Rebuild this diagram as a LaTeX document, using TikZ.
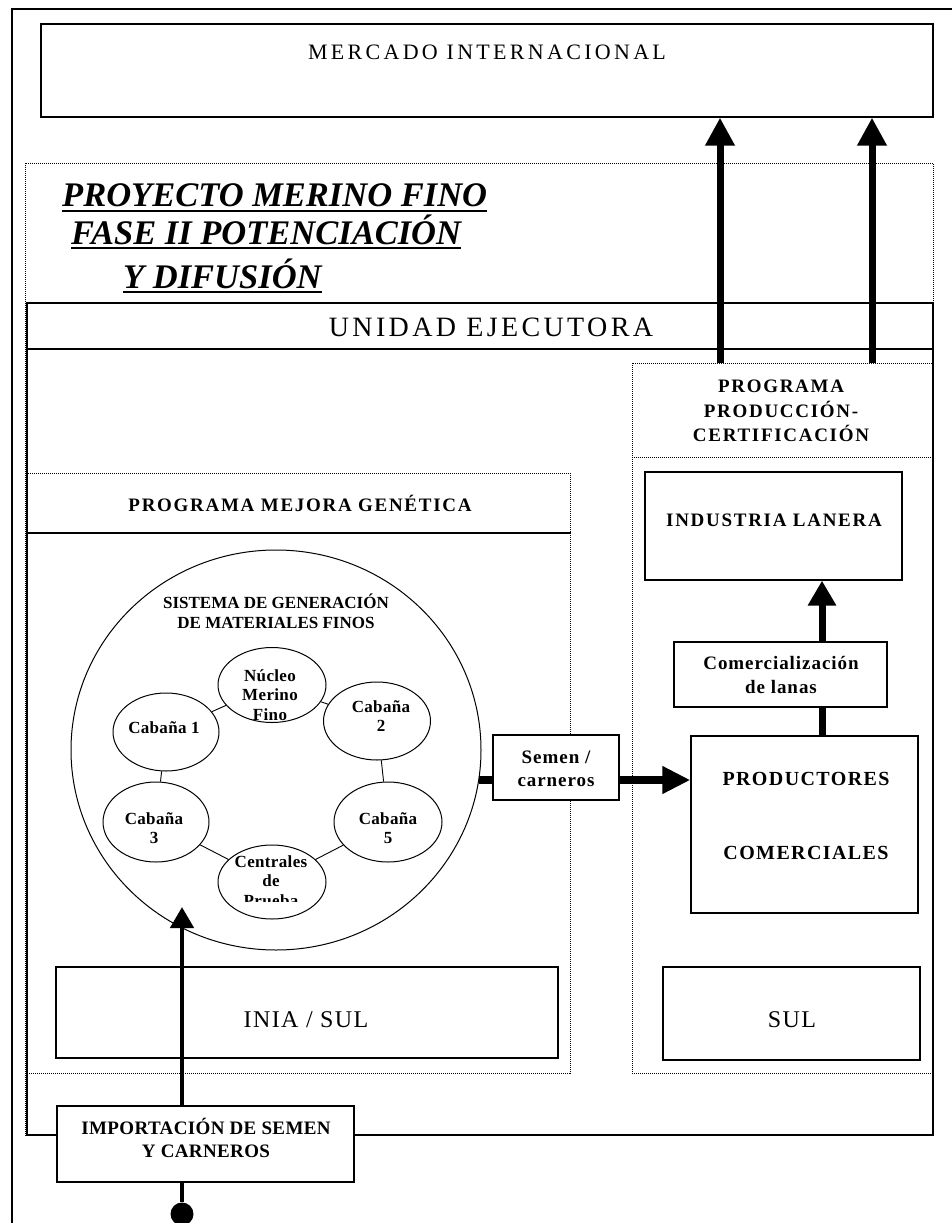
\documentclass[tikz,border=0pt]{standalone}
\usepackage{fontspec}
\setmainfont{Liberation Serif}
\usetikzlibrary{arrows.meta,shapes.geometric,fit}
\newcommand{\myfs}[2]{\fontsize{#1}{#2}\selectfont}
\newcommand{\myls}[1]{\addfontfeatures{LetterSpace=#1}}
\tikzset{
  box/.style={draw, line width=1.3pt, inner sep=0pt},
  dotbox/.style={draw, line width=1pt, dash pattern=on 1pt off 1pt, inner sep=0pt},
  dotline/.style={line width=1pt, dash pattern=on 1pt off 1pt},
  solidline/.style={line width=1.3pt},
  lbl/.style={inner sep=0pt, align=center},
  ell/.style={draw, ellipse, line width=1pt, inner sep=0pt},
  link/.style={line width=0.9pt},
  uline/.style={line width=2.6pt},
  upar/.style={line width=7pt, -{Triangle[length=28pt,width=28pt]}},
  upartwo/.style={line width=7pt, -{Triangle[length=25pt,width=27pt]}},
  shaft/.style={line width=7pt},
  rar/.style={line width=8pt, -{Triangle[length=28pt,width=26pt]}},
  impar/.style={line width=4.5pt, -{Triangle[length=21pt,width=23pt]}},
  titlef/.style={lbl, anchor=base west, font=\myfs{34.5}{40}\bfseries\itshape},
  progf/.style={lbl, font=\myfs{19}{24.5}\bfseries\myls{9}},
  lowf/.style={lbl, font=\myfs{19}{24.5}\bfseries\myls{5}},
  ellf/.style={lbl, font=\myfs{17}{19.5}\bfseries\myls{2}},
}
\begin{document}
\begin{tikzpicture}[x=1pt,y=-1pt]
\useasboundingbox (0,0) rectangle (952,1223);
\fill[white] (0,0) rectangle (952,1223);
% outer frame
\draw[solidline] (12,1223) -- (12,9) -- (952,9);

% mercado
\node[box, fit={(41,24)(933,117)}] (merc) {};
\node[lbl, font=\myfs{22}{26}\myls{15}] (mercT) at (487,52) {MERCADO INTERNACIONAL};

% proyecto
\node[dotbox, fit={(25,163)(933,1135)}] (proy) {};
\node[titlef] (t1) at (62,206) {PROYECTO MERINO FINO};
\node[titlef] (t2) at (71,244) {FASE II POTENCIACIÓN};
\node[titlef] (t3) at (123,288) {Y DIFUSIÓN};
\draw[uline] ([yshift=-5pt]t1.base west) -- ([yshift=-5pt]t1.base east);
\draw[uline] ([yshift=-4pt]t2.base west) -- ([yshift=-4pt]t2.base east);
\draw[uline] ([yshift=-4pt]t3.base west) -- ([yshift=-4pt]t3.base east);

% unidad ejecutora
\node[box, fit={(27,303)(933,1135)}] (unid) {};
\draw[solidline] (unid.west |- 0,349) -- (unid.east |- 0,349);
\node[lbl, font=\myfs{28}{32}\myls{12}] (unidT) at (491,327) {UNIDAD EJECUTORA};

% programa mejora genetica
\node[dotbox, fit={(27,473)(570,1073)}] (mej) {};
\draw[solidline] (mej.west |- 0,533) -- (mej.east |- 0,533);
\node[lbl, font=\myfs{19}{22}\bfseries\myls{9}] (mejT) at (300,503) {PROGRAMA MEJORA GENÉTICA};

% programa produccion
\node[dotbox, fit={(632,363)(932,1073)}] (prodc) {};
\draw[dotline] (prodc.west |- 0,457) -- (prodc.east |- 0,457);
\node[progf] (prodcT) at (781,411) {PROGRAMA\\PRODUCCIÓN-\\CERTIFICACIÓN};

% right boxes
\node[box, fit={(645,472)(902,580)}] (ind) {};
\node[progf] (indT) at (774,520) {INDUSTRIA LANERA};
\node[box, fit={(674,642)(887,707)}] (com) {};
\node[lowf] (comT) at (781,675) {Comercialización\\de lanas};
\node[box, fit={(691,736)(918,913)}] (pc) {};
\node[lbl, font=\myfs{20}{24}\bfseries\myls{7}] (pcT1) at (806,779) {PRODUCTORES};
\node[lbl, font=\myfs{20}{24}\bfseries\myls{7}] (pcT2) at (806,853) {COMERCIALES};
\node[box, fill=white, fit={(493,735)(619,800)}] (sem) {};
\node[lbl, font=\myfs{19}{23}\bfseries\myls{5}] (semT) at (556,769) {Semen /\\carneros};
\node[box, fit={(56,967)(558,1058)}] (inia) {};
\node[lbl, font=\myfs{24}{28}\myls{6}] (iniaT) at (306,1020) {INIA / SUL};
\node[box, fit={(663,967)(920,1060)}] (sul) {};
\node[lbl, font=\myfs{24}{28}\myls{6}] (sulT) at (792,1020) {SUL};
\node[box, fill=white, fit={(57,1106)(354,1182)}] (imp) {};
\node[lbl, font=\myfs{19}{23}\bfseries\myls{2}] (impT) at (206,1138) {IMPORTACIÓN DE SEMEN\\Y CARNEROS};

% big circle
\node[ell, minimum width=410pt, minimum height=400pt] (circ) at (276,750) {};
\node[lbl, font=\myfs{17}{20}\bfseries] (circT) at (276,611) {SISTEMA DE GENERACIÓN\\DE MATERIALES FINOS};

% small ellipses
\node[ell, minimum width=108pt, minimum height=75pt] (nuc) at (272,685) {};
\node[ell, minimum width=107pt, minimum height=78pt] (c2) at (377,721) {};
\node[ell, minimum width=106pt, minimum height=78pt] (c1) at (166,732) {};
\node[ell, minimum width=106pt, minimum height=80pt] (c3) at (156,822) {};
\node[ell, minimum width=108pt, minimum height=80pt] (c5) at (388,822) {};
\node[ell, minimum width=108pt, minimum height=74pt] (cen) at (272,882) {};
\node[ellf] (nucT) at (270,695) {Núcleo\\Merino\\Fino};
\node[ellf] (c1T) at (164,728) {Cabaña 1};
\node[ellf] (c2T) at (381,716) {Cabaña\\2};
\node[ellf] (c3T) at (154,828) {Cabaña\\3};
\node[ellf] (c5T) at (388,828) {Cabaña\\5};
\begin{scope}
\clip (205,840) rectangle (340,901);
\node[ellf] (cenT) at (271,881) {Centrales\\de\\Prueba};
\end{scope}
\draw[link] (c1) -- (nuc);
\draw[link] (nuc) -- (c2);
\draw[link] (c1) -- (c3);
\draw[link] (c2) -- (c5);
\draw[link] (c3) -- (cen);
\draw[link] (c5) -- (cen);

% connectors
\coordinate (xa) at (720,0);
\coordinate (xb) at (872,0);
\coordinate (xc) at (822,0);
\coordinate (ys) at (0,780);
\coordinate (impTip) at (182,907);
\draw[upar] (prodc.north -| xa) -- (merc.south -| xa);
\draw[upar] (prodc.north -| xb) -- (merc.south -| xb);
\draw[upartwo] (com.north -| xc) -- (ind.south -| xc);
\draw[shaft] (pc.north -| xc) -- (com.south -| xc);
\draw[line width=8pt] ([xshift=-3pt]circ.east |- ys) -- (sem.west |- ys);
\draw[rar] (sem.east |- ys) -- (pc.west |- ys);
\draw[impar] (imp.north -| impTip) -- (impTip);
\node[circle, fill=black, minimum size=23pt, inner sep=0pt] (dot) at (182,1214) {};
\draw[line width=4.5pt] (imp.south -| dot) -- (dot);
\end{tikzpicture}
\end{document}
